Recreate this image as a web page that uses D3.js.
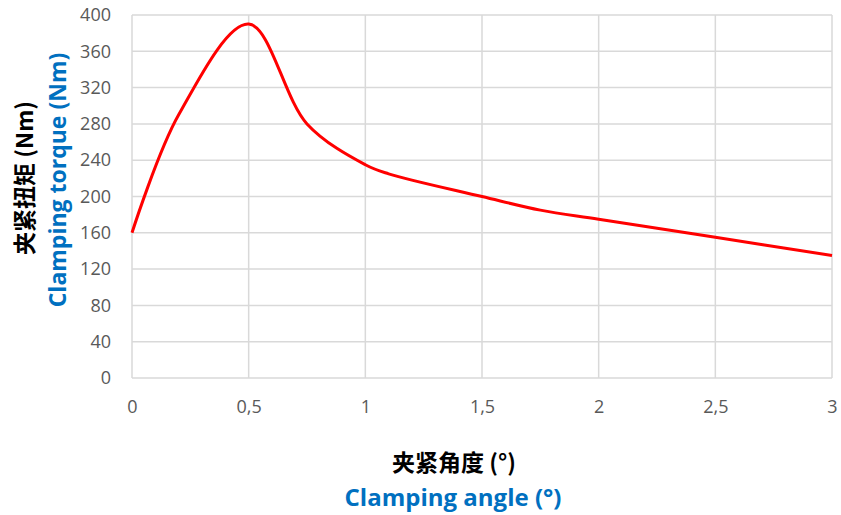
<!DOCTYPE html>
<html>
<head>
<meta charset="utf-8">
<script src="https://cdn.jsdelivr.net/npm/d3@7"></script>
<style>
  body { margin: 0; background: #fff; }
</style>
</head>
<body>
<div id="chart"></div>
<script>
// data
const angle  = [0, 0.2, 0.5, 0.75, 1, 1.1, 1.5, 1.75, 2, 2.5, 3];
const torque = [160, 290, 390, 280, 235, 225, 200, 185, 175, 155, 135];
const xTicks = [0, 0.5, 1, 1.5, 2, 2.5, 3];
const yTicks = [0, 40, 80, 120, 160, 200, 240, 280, 320, 360, 400];

const W = 841, H = 515;
const margin = {top: 15, right: 9, bottom: 137, left: 132},
    width = W - margin.left - margin.right,
    height = H - margin.top - margin.bottom;

const svg = d3.select("#chart")
    .append("svg")
        .attr("width", W)
        .attr("height", H)
    .append("g")
        .attr("transform", "translate(" + margin.left + "," + margin.top + ")");

const x = d3.scaleLinear().domain([0, 3]).range([0, width]);
const y = d3.scaleLinear().domain([0, 400]).range([height, 0]);

const fmt = d => String(d).replace(".", ",");

// grid
svg.append("g")
    .selectAll("line")
    .data(yTicks)
    .join("line")
        .attr("x1", 0).attr("x2", width)
        .attr("y1", d => y(d)).attr("y2", d => y(d))
        .attr("stroke", "#d9d9d9").attr("stroke-width", 1.5);
svg.append("g")
    .selectAll("line")
    .data(xTicks)
    .join("line")
        .attr("x1", d => x(d)).attr("x2", d => x(d))
        .attr("y1", 0).attr("y2", height)
        .attr("stroke", "#d9d9d9").attr("stroke-width", 1.5);

// axes (labels only)
const xAxis = svg.append("g")
    .attr("transform", "translate(0," + height + ")")
    .call(d3.axisBottom(x).tickValues(xTicks).tickFormat(fmt).tickSize(0).tickPadding(22));
const yAxis = svg.append("g")
    .call(d3.axisLeft(y).tickValues(yTicks).tickSize(0).tickPadding(21));
[xAxis, yAxis].forEach(a => {
    a.select(".domain").remove();
    a.selectAll("text")
        .attr("fill", "#595959")
        .style("font-family", "'Open Sans', sans-serif")
        .style("font-size", "18px");
});

// line
svg.append("path")
    .datum(angle.map((a, i) => [a, torque[i]]))
    .attr("fill", "none")
    .attr("stroke", "#ff0000")
    .attr("stroke-width", 3)
    .attr("stroke-linejoin", "round")
    .attr("d", d3.line()
        .x(d => x(d[0]))
        .y(d => y(d[1]))
        .curve(d3.curveCatmullRom.alpha(0.5)));

// titles
const root = d3.select("svg");
root.append("text")
    .attr("transform", "translate(33,178) rotate(-90)")
    .attr("text-anchor", "middle")
    .style("font-family", "'Noto Sans CJK SC', sans-serif")
    .style("font-weight", "bold")
    .style("font-size", "23px")
    .attr("fill", "#000")
    .text("夹紧扭矩 (Nm)");
root.append("text")
    .attr("transform", "translate(66,180) rotate(-90)")
    .attr("text-anchor", "middle")
    .style("font-family", "'Open Sans', sans-serif")
    .style("font-weight", "bold")
    .style("font-size", "23px")
    .attr("fill", "#0070c0")
    .text("Clamping torque (Nm)");
root.append("text")
    .attr("x", 454).attr("y", 471)
    .attr("text-anchor", "middle")
    .style("font-family", "'Noto Sans CJK SC', sans-serif")
    .style("font-weight", "bold")
    .style("font-size", "23px")
    .attr("fill", "#000")
    .text("夹紧角度 (°)");
root.append("text")
    .attr("x", 453).attr("y", 506)
    .attr("text-anchor", "middle")
    .style("font-family", "'Open Sans', sans-serif")
    .style("font-weight", "bold")
    .style("font-size", "24px")
    .attr("fill", "#0070c0")
    .text("Clamping angle (°)");
</script>
</body>
</html>
